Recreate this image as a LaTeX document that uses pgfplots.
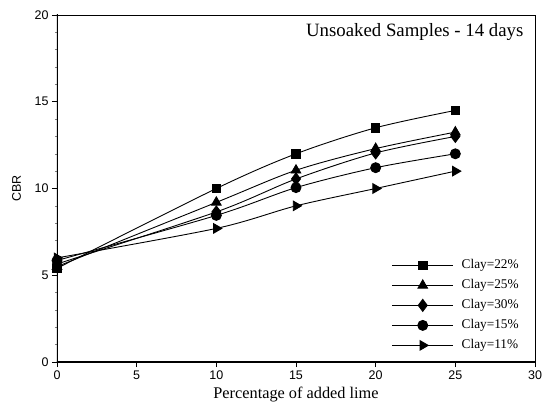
\documentclass[border=0pt]{standalone}
\usepackage{pgfplots}
\pgfplotsset{compat=1.18}
\usepackage{fontspec}
\setmainfont{Liberation Serif}
\newfontfamily\arial{Liberation Sans}
\begin{document}
\begin{tikzpicture}
\begin{axis}[
  at={(0,0)}, anchor=south west,
  scale only axis,
  width=478bp, height=347bp,
  xmin=0, xmax=30, ymin=0, ymax=20,
  xtick={0,5,...,30}, ytick={0,5,...,20},
  minor y tick num=4,
  xtick pos=left, ytick pos=left,
  tick align=outside,
  major tick length=5bp,
  minor tick length=2bp,
  tick style={black, line width=0.6bp},
  minor tick style={gray, line width=0.4bp},
  axis line style={line width=0.8bp},
  /pgf/number format/assume math mode=true,
  tick label style={font=\arial\fontsize{12.5bp}{14bp}\selectfont},
  xlabel={Percentage of added lime},
  ylabel={CBR},
  xlabel style={font=\fontsize{16.3bp}{19bp}\selectfont, at={(axis description cs:0.5,-0.1066)}, anchor=base},
  ylabel style={font=\arial\fontsize{12.5bp}{14bp}\selectfont, at={(axis description cs:-0.068,0.5)}, anchor=south, rotate=0},
  legend style={draw=none, fill=none, at={(axis description cs:0.70,0.03)}, anchor=south west,
    font=\fontsize{13.3bp}{15bp}\selectfont, row sep=8bp, inner sep=0pt,
    nodes={inner sep=0pt, text height=9bp, text depth=3bp},
    /tikz/column 1/.style={column sep=8bp}},
  legend cell align=left,
  legend image code/.code={\draw[mark repeat=2,mark phase=2] plot coordinates {(0bp,0bp) (30.5bp,0bp) (61bp,0bp)};},
  every axis plot/.append style={black, line width=0.9bp, smooth},
]
\addplot[mark=square*, mark size=4.2bp, mark options={solid, fill=black}] coordinates {(0,5.4) (10,10.0) (15,12.0) (20,13.5) (25,14.5)};
\addlegendentry{Clay=22\%}
\addplot[mark=triangle*, mark size=5.5bp, mark options={solid, fill=black}] coordinates {(0,5.5) (10,9.2) (15,11.05) (20,12.3) (25,13.25)};
\addlegendentry{Clay=25\%}
\addplot[mark=diamond*, mark size=6bp, mark options={solid, fill=black}] coordinates {(0,5.65) (10,8.65) (15,10.55) (20,12.05) (25,13.0)};
\addlegendentry{Clay=30\%}
\addplot[mark=*, mark size=5bp, mark options={solid, fill=black}] coordinates {(0,5.85) (10,8.45) (15,10.05) (20,11.2) (25,12.0)};
\addlegendentry{Clay=15\%}
\addplot[mark=triangle*, mark size=5.5bp, mark options={solid, fill=black, rotate=-90}] coordinates {(0,6.0) (10,7.7) (15,9.0) (20,10.0) (25,11.0)};
\addlegendentry{Clay=11\%}
\draw[line width=2.2bp, line cap=rect] (rel axis cs:0,0) -- (rel axis cs:0,1);
\draw[line width=2.2bp, line cap=rect] (rel axis cs:0,0) -- (rel axis cs:1,0);
\node[anchor=base east, font=\fontsize{18.8bp}{22bp}\selectfont] at (axis description cs:0.983,0.9366) {Unsoaked Samples - 14 days};
\end{axis}
\pgfresetboundingbox
\path (-57bp,-43bp) rectangle (491bp,362bp);
\end{tikzpicture}
\end{document}
